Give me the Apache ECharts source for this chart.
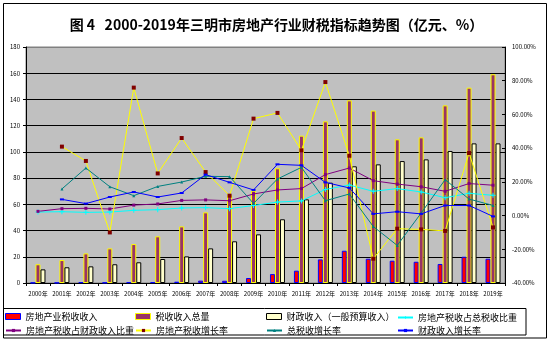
<!DOCTYPE html>
<html><head><meta charset="utf-8">
<script src="https://cdn.jsdelivr.net/npm/echarts@6/dist/echarts.min.js"></script>
<style>html,body{margin:0;padding:0;background:#fff;}#c{width:553px;height:342px;}</style>
</head><body><div id="c"></div>
<script>
var categories = ['2000年','2001年','2002年','2003年','2004年','2005年','2006年','2007年','2008年','2009年','2010年','2011年','2012年','2013年','2014年','2015年','2016年','2017年','2018年','2019年'];
var realEstateTax = [0.2, 0.2, 0.6, 0.3, 0.6, 0.6, 1.0, 1.8, 1.7, 3.8, 6.8, 9.4, 18.0, 24.6, 18.5, 17.0, 16.2, 14.5, 20.0, 18.5];
var totalTax = [14.3, 17.5, 22.6, 26.4, 29.7, 35.6, 43.2, 53.9, 66.9, 70.4, 87.5, 112.4, 123.3, 139.3, 131.5, 109.6, 111.1, 135.5, 149.0, 159.2];
var fiscalRevenue = [10.4, 12.0, 12.7, 14.3, 15.8, 18.3, 20.3, 26.4, 31.8, 37.1, 48.6, 63.8, 76.5, 89.0, 90.5, 93.0, 94.3, 100.7, 106.5, 106.5];
var shareOfTotalTax = [2.1, 2.3, 1.9, 2.1, 3.1, 3.5, 4.5, 4.7, 4.1, 6.0, 8.0, 8.7, 15.5, 18.1, 14.4, 16.0, 14.0, 10.6, 13.2, 12.0];
var shareOfFiscal = [2.5, 4.1, 4.3, 3.9, 6.2, 6.9, 9.0, 9.3, 8.8, 12.8, 15.2, 16.0, 24.3, 28.2, 20.7, 18.7, 17.1, 14.4, 19.0, 18.0];
var realEstateGrowth = [null, 40.9, 32.4, -10.0, 75.9, 25.0, 46.0, 25.8, 11.8, 57.5, 60.9, 38.7, 79.2, 35.5, -25.6, -7.8, -8.2, -9.1, 37.1, -7.0];
var totalTaxGrowth = [null, 15.8, 28.2, 17.1, 11.8, 17.3, 19.9, 23.3, 23.1, 7.2, 21.7, 28.6, 8.8, 12.8, -6.5, -17.7, 1.5, 21.3, 9.8, 6.0];
var fiscalGrowth = [null, 9.6, 7.1, 11.0, 14.0, 11.0, 13.4, 24.3, 19.7, 15.2, 30.4, 29.8, 19.7, 16.4, 1.0, 2.3, 1.0, 6.0, 6.0, -0.5];
var leftTicks = [0, 180, 20];
var rightTicks = [-40, 100, 20];
var names = ['房地产业税收收入','税收收入总量','财政收入（一般预算收入）','房地产税收占总税收比重','房地产税收占财政收入比重','房地产税收增长率','总税收增长率','财政收入增长率'];

var FONT = '"Noto Sans CJK SC", "Noto Sans", sans-serif';
var chart = echarts.init(document.getElementById('c'), null, {renderer:'canvas'});
var plusPath = 'path://M4,0 L6,0 L6,4 L10,4 L10,6 L6,6 L6,10 L4,10 L4,6 L0,6 L0,4 L4,4 Z';
var legendCols = [5, 135, 266, 397];
var legendRows = [312, 325];
var legends = names.map(function(n, i){
  var isBar = i < 3;
  var lg = {
    data: [n], left: legendCols[i % 4], top: legendRows[Math.floor(i / 4)] + (isBar ? 0 : 1),
    itemWidth: 15, itemHeight: isBar ? 6 : 4, padding: 0,
    textStyle: {fontSize: 9, color: '#000', fontFamily: FONT, padding: isBar ? [0,0,0,0] : [0,0,0,0]}
  };
  if (isBar) { lg.icon = 'rect'; lg.itemStyle = {borderWidth: 1}; }
  return lg;
});
var splitColors = [];
for (var k = 0; k < 9; k++) splitColors.push('#000');
splitColors.push('#808080');

chart.setOption({
  animation: false,
  backgroundColor: '#fff',
  title: {
    text: '图 4   2000-2019年三明市房地产行业财税指标趋势图（亿元、%）',
    left: 'center', top: 13,
    textStyle: {fontSize: 14, fontWeight: 'bold', color: '#000', fontFamily: FONT}
  },
  graphic: [
    {type: 'rect', shape: {x: 3.5, y: 3.5, width: 543, height: 334.5}, style: {fill: 'none', stroke: '#000', lineWidth: 1}, silent: true},
    {type: 'rect', shape: {x: 3.5, y: 308.5, width: 522.5, height: 26.5}, style: {fill: 'none', stroke: '#000', lineWidth: 1}, silent: true}
  ],
  legend: legends,
  grid: {left: 26, right: 48, top: 47, bottom: 59, show: true, backgroundColor: '#C0C0C0', borderColor: '#808080', borderWidth: 1},
  xAxis: {
    type: 'category', data: categories, boundaryGap: true,
    axisLine: {lineStyle: {color: '#000', width: 1}},
    axisTick: {show: true, length: 3, lineStyle: {color: '#000'}},
    axisLabel: {fontSize: 6, color: '#000', margin: 8, interval: 0, fontFamily: FONT}
  },
  yAxis: [
    {
      type: 'value', position: 'left', min: leftTicks[0], max: leftTicks[1], interval: leftTicks[2],
      axisLine: {show: true, lineStyle: {color: '#000'}},
      axisTick: {show: true, length: 3, lineStyle: {color: '#000'}},
      splitLine: {show: true, lineStyle: {color: splitColors, width: 1}},
      axisLabel: {fontSize: 6, color: '#000', margin: 6, fontFamily: FONT}
    },
    {
      type: 'value', position: 'right', min: rightTicks[0], max: rightTicks[1], interval: rightTicks[2],
      axisLine: {show: true, lineStyle: {color: '#000'}},
      axisTick: {show: true, inside: true, length: 3, lineStyle: {color: '#000'}},
      splitLine: {show: false},
      axisLabel: {fontSize: 6, color: '#000', margin: 7, fontFamily: FONT,
        formatter: function(v){ return v.toFixed(2) + '%'; }}
    }
  ],
  series: [
    {name: names[0], type: 'bar', data: realEstateTax, barWidth: 5, barGap: '0%',
      itemStyle: {color: '#FF0000', borderColor: '#0000FF', borderWidth: 1}},
    {name: names[1], type: 'bar', data: totalTax, barWidth: 5, barGap: '0%',
      itemStyle: {color: '#993366', borderColor: '#FFFF00', borderWidth: 1}},
    {name: names[2], type: 'bar', data: fiscalRevenue, barWidth: 5, barGap: '0%',
      itemStyle: {color: '#FFFFCC', borderColor: '#000000', borderWidth: 1}},
    {name: names[3], type: 'line', yAxisIndex: 1, data: shareOfTotalTax, symbol: plusPath, symbolSize: 5,
      lineStyle: {color: '#00FFFF', width: 1}, itemStyle: {color: '#00FFFF'}},
    {name: names[4], type: 'line', yAxisIndex: 1, data: shareOfFiscal, symbol: 'rect', symbolSize: 3,
      lineStyle: {color: '#800080', width: 1}, itemStyle: {color: '#800080'}},
    {name: names[5], type: 'line', yAxisIndex: 1, data: realEstateGrowth, symbol: 'rect', symbolSize: 4,
      lineStyle: {color: '#FFFF00', width: 1}, itemStyle: {color: '#800000'}},
    {name: names[6], type: 'line', yAxisIndex: 1, data: totalTaxGrowth, symbol: 'triangle', symbolSize: 3,
      lineStyle: {color: '#008080', width: 1}, itemStyle: {color: '#008080'}},
    {name: names[7], type: 'line', yAxisIndex: 1, data: fiscalGrowth, symbol: 'rect', symbolSize: [4, 2],
      lineStyle: {color: '#0000FF', width: 1}, itemStyle: {color: '#0000FF'}}
  ]
});
</script></body></html>
